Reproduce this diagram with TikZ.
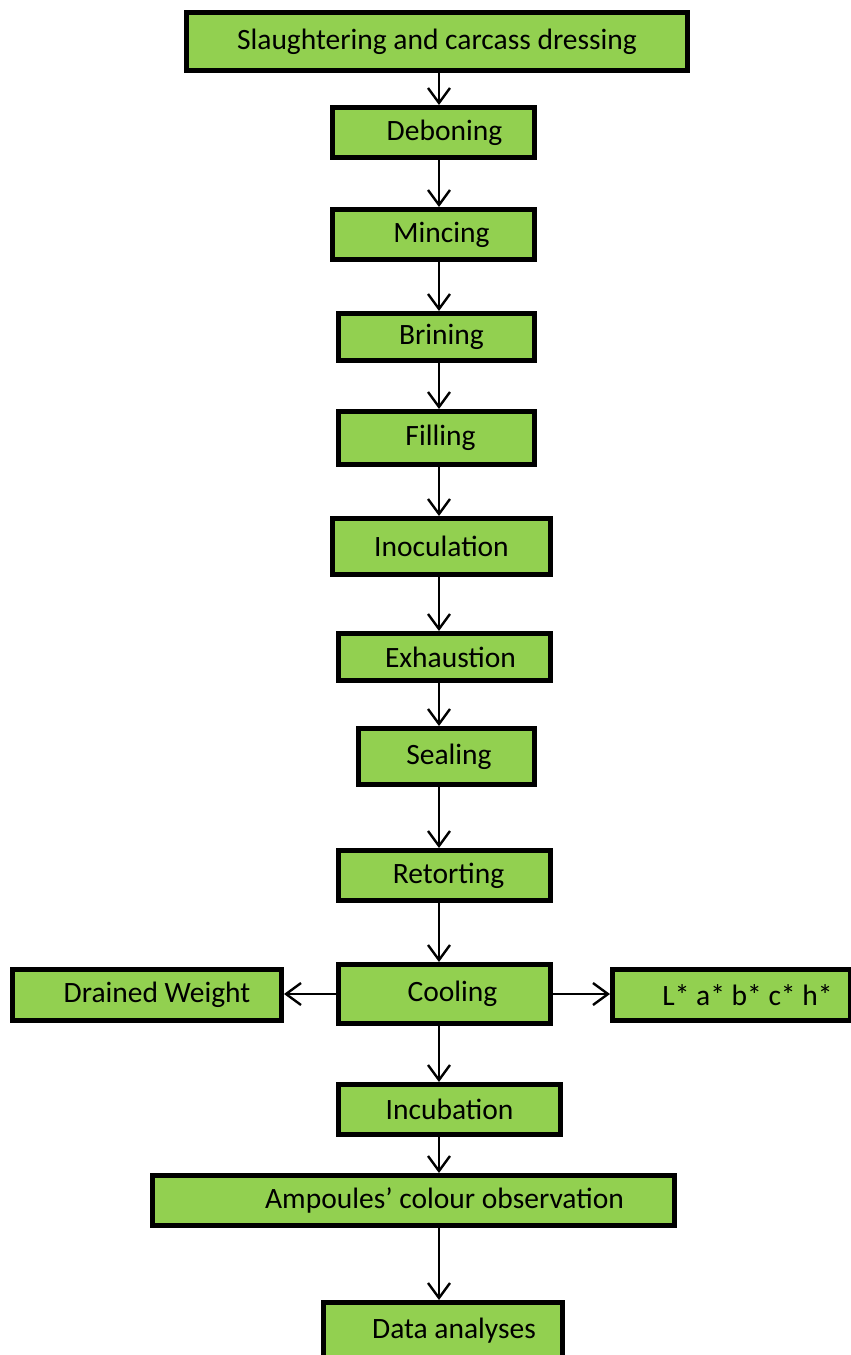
\documentclass[tikz,border=0pt]{standalone}
\usepackage{fontspec}
\setmainfont{Carlito}
\usetikzlibrary{arrows.meta}
\definecolor{stepgreen}{HTML}{92D050}

\begin{document}
\begin{tikzpicture}[x=1pt,y=-1pt,->,>={Straight Barb[length=15pt,width=22pt]},
  line width=2.4pt,
  stepbox/.style={rectangle,draw,line width=5pt,fill=stepgreen,
    inner sep=0pt,font=\fontsize{29.5}{34}\selectfont}]

  \useasboundingbox (0,0) rectangle (851,1355);
  \coordinate (spine) at (439,0);

  % main line
  \node[stepbox,minimum width=501,minimum height=58] (slaughter) at (437,41.5) {Slaughtering and carcass dressing};
  \node[stepbox,minimum width=202,minimum height=50] (debone) at (433.5,132.5) {\hspace*{22pt}Deboning};
  \node[stepbox,minimum width=202,minimum height=50] (mince) at (433.5,234.5) {\hspace*{16pt}Mincing};
  \node[stepbox,minimum width=196,minimum height=47] (brine) at (436.5,337) {\hspace*{10pt}Brining};
  \node[stepbox,minimum width=196,minimum height=53] (fill) at (436.5,438) {\hspace*{8pt}Filling};
  \node[stepbox,minimum width=218,minimum height=56] (inoculate) at (441.5,546.5) {Inoculation};
  \node[stepbox,minimum width=212,minimum height=47] (exhaust) at (444.5,657) {\hspace*{12pt}Exhaustion};
  \node[stepbox,minimum width=176,minimum height=56] (seal) at (446.5,756.5) {\hspace*{5pt}Sealing};
  \node[stepbox,minimum width=212,minimum height=50] (retort) at (444.5,875.5) {\hspace*{8pt}Retorting};
  \node[stepbox,minimum width=212,minimum height=59] (cool) at (444.5,994) {\hspace*{16pt}Cooling};
  \node[stepbox,minimum width=222,minimum height=50] (incubate) at (449.5,1109.5) {Incubation};
  \node[stepbox,minimum width=522,minimum height=50] (ampoule) at (413.5,1200.5) {\hspace*{62pt}Ampoules’ colour observation};
  \node[stepbox,minimum width=239,minimum height=57] (analyse) at (443,1331) {\hspace*{22pt}Data analyses};

  % side boxes
  \node[stepbox,minimum width=269,minimum height=51] (drained) at (147,995) {\hspace*{20pt}Drained Weight};
  \node[stepbox,minimum width=238,minimum height=51] (colour) at (731.5,995) {\hspace*{32pt}L* a* b* c* h*};

  \foreach \a/\b in {slaughter/debone,debone/mince,mince/brine,brine/fill,
      fill/inoculate,inoculate/exhaust,exhaust/seal,seal/retort,retort/cool,
      cool/incubate,incubate/ampoule,ampoule/analyse}
    \draw (\a.south -| spine) -- (\b.north -| spine);

  \draw (cool.west) -- (drained.east |- cool.west);
  \draw (cool.east) -- (colour.west |- cool.east);

\end{tikzpicture}
\end{document}
